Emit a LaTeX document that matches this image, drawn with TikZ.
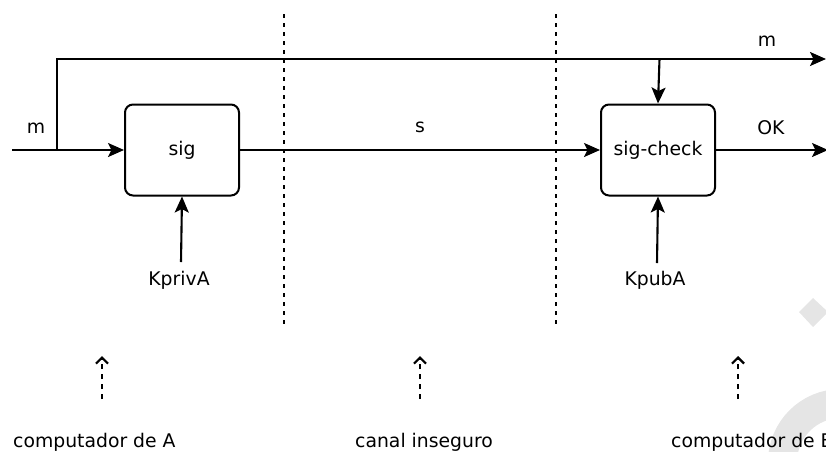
\documentclass[tikz,border=0pt]{standalone}
\usepackage{fontspec}
\setmainfont{DejaVu Sans}
\usetikzlibrary{arrows.meta}
\begin{document}
\begin{tikzpicture}[x=1pt,y=-1pt,
  font=\fontsize{18.8}{22}\selectfont,
  every node/.style={inner sep=0pt},
  blockbox/.style={draw, line width=2pt, rounded corners=8pt, minimum width=114pt, minimum height=91pt},
  flow/.style={line width=2.1pt, -{Stealth[length=16pt,width=14pt,inset=3.5pt]}},
  plainline/.style={line width=2.1pt},
  divider/.style={line width=2.4pt, dash pattern=on 4pt off 5pt},
  pointer/.style={line width=2.4pt, dash pattern=on 5pt off 5pt, -{Straight Barb[length=6pt,width=12pt,line width=2.2pt]}},
  lbl/.style={inner sep=0pt}
]
\clip (0,0) rectangle (826,451);
\useasboundingbox (0,0) rectangle (826,451);
% faint watermark
\fill[gray!20] (813,298) -- (828,312) -- (813,327) -- (799,312) -- cycle;
\draw[gray!20, line width=29pt] (841,462) circle (58.5);

% blocks
\node[blockbox] (sig) at (182,150) {sig};
\node[blockbox] (chk) at (658,150) {sig-check};

% coordinates
\coordinate (in) at (12,150);
\coordinate (br) at (57,150);
\coordinate (tl) at (57,59);
\coordinate (tj) at (659.5,59);
\coordinate (mout) at (826,59);
\coordinate (okout) at (828,150);
\coordinate (kpriv) at (181,262);
\coordinate (kpub) at (657,263);

% connectors
\draw[plainline] (in) -- (br);
\draw[flow] (br) -- (sig.west);
\draw[plainline] (br) -- (tl) -- (tj);
\draw[flow] (tj) -- (mout);
\draw[flow] (tj) -- (chk.north);
\draw[flow] (sig.east) -- (chk.west);
\draw[flow] (chk.east) -- (okout);
\draw[flow] (kpriv) -- (sig.south);
\draw[flow] (kpub) -- (chk.south);

% labels
\node[lbl] (lm) at (36,128) {m};
\node[lbl] (ls) at (420,127) {s};
\node[lbl] (lm2) at (767,41.5) {m};
\node[lbl] (lok) at (771,128) {OK};
\node[lbl, anchor=base] (lkpriv) at (179,285) {KprivA};
\node[lbl, anchor=base] (lkpub) at (655,285) {KpubA};

% dividers
\coordinate (d1t) at (284,14);
\coordinate (d1b) at (284,326);
\coordinate (d2t) at (556,14);
\coordinate (d2b) at (556,326);
\draw[divider] (d1t) -- (d1b);
\draw[divider] (d2t) -- (d2b);

% pointers
\coordinate (p1) at (102,399);
\coordinate (p1t) at (102,356);
\coordinate (p2) at (420,399);
\coordinate (p2t) at (420,356);
\coordinate (p3) at (738,399);
\coordinate (p3t) at (738,356);
\draw[pointer] (p1) -- (p1t);
\draw[pointer] (p2) -- (p2t);
\draw[pointer] (p3) -- (p3t);

% bottom captions
\node[lbl, anchor=base west] (ca) at (13,447) {computador de A};
\node[lbl, anchor=base west] (cc) at (355,447) {canal inseguro};
\node[lbl, anchor=base west] (cb) at (671,447) {computador de B};
\end{tikzpicture}
\end{document}
